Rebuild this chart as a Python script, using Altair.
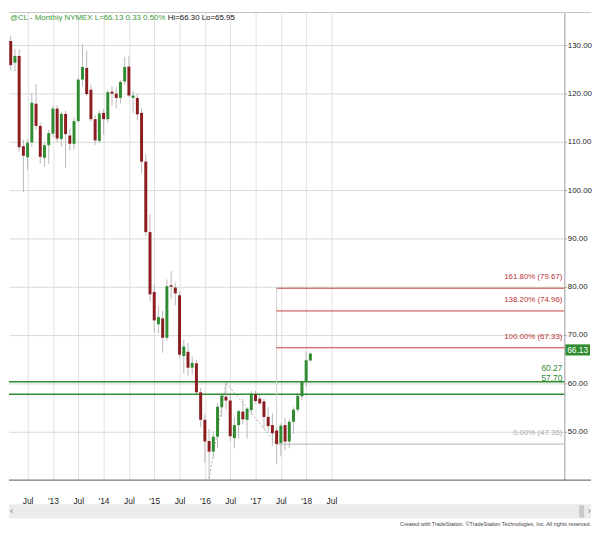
import altair as alt
import pandas as pd

FONT = "Liberation Sans, Arial, sans-serif"

# ---------------- data ----------------
months = [
    "2012-03", "2012-04", "2012-05", "2012-06", "2012-07", "2012-08", "2012-09", "2012-10", "2012-11", "2012-12",
    "2013-01", "2013-02", "2013-03", "2013-04", "2013-05", "2013-06", "2013-07", "2013-08", "2013-09", "2013-10",
    "2013-11", "2013-12", "2014-01", "2014-02", "2014-03", "2014-04", "2014-05", "2014-06", "2014-07", "2014-08",
    "2014-09", "2014-10", "2014-11", "2014-12", "2015-01", "2015-02", "2015-03", "2015-04", "2015-05", "2015-06",
    "2015-07", "2015-08", "2015-09", "2015-10", "2015-11", "2015-12", "2016-01", "2016-02", "2016-03", "2016-04",
    "2016-05", "2016-06", "2016-07", "2016-08", "2016-09", "2016-10", "2016-11", "2016-12", "2017-01", "2017-02",
    "2017-03", "2017-04", "2017-05", "2017-06", "2017-07", "2017-08", "2017-09", "2017-10", "2017-11", "2017-12",
    "2018-01", "2018-02",
]
opens = [
    130.9, 126.4, 127.8, 109.1, 106.8, 109.9, 117.9, 113.3, 106.7, 109.3,
    111.7, 116.9, 110.6, 115.8, 111.3, 109.6, 114.3, 122.9, 125.3, 120.8,
    114.7, 110.2, 116.0, 114.7, 120.4, 120.0, 119.1, 122.5, 125.6, 119.1,
    119.1, 116.0, 105.9, 91.3, 78.9, 72.2, 73.4, 69.4, 80.3, 79.8,
    78.2, 65.6, 66.5, 63.2, 64.1, 58.1, 52.4, 48.0, 45.8, 48.9,
    55.0, 57.2, 56.4, 48.6, 51.3, 54.1, 52.4, 54.4, 57.7, 56.8,
    56.2, 53.0, 51.3, 50.2, 47.6, 51.3, 47.9, 52.0, 54.5, 57.3,
    60.3, 64.7,
]
highs = [
    132.0, 129.3, 129.2, 110.5, 110.5, 120.1, 122.0, 114.0, 110.0, 112.5,
    117.5, 117.6, 116.3, 116.5, 112.8, 115.0, 123.3, 130.2, 128.9, 121.8,
    115.5, 116.5, 116.8, 120.7, 121.5, 121.3, 122.8, 127.6, 127.7, 120.5,
    120.0, 117.0, 107.5, 95.0, 80.5, 76.0, 75.0, 81.5, 83.2, 80.8,
    79.0, 69.0, 68.3, 65.5, 64.8, 59.0, 53.5, 50.5, 50.0, 55.8,
    57.9, 60.14, 57.5, 53.0, 54.5, 56.8, 55.0, 58.3, 58.4, 57.6,
    56.8, 55.0, 53.8, 51.0, 51.7, 52.8, 52.5, 55.0, 58.0, 60.6,
    66.6, 66.3,
]
lows = [
    124.8, 124.6, 108.0, 99.6, 104.2, 109.0, 112.5, 105.5, 104.8, 105.5,
    111.0, 109.9, 109.0, 104.6, 108.2, 108.5, 114.0, 121.5, 119.5, 114.2,
    109.3, 109.8, 111.5, 114.0, 117.5, 117.0, 118.0, 121.8, 119.3, 116.0,
    114.5, 103.5, 90.5, 77.0, 70.5, 70.3, 66.3, 68.8, 77.4, 76.1,
    65.3, 62.0, 61.5, 61.8, 57.5, 50.9, 43.5, 40.17, 44.5, 46.5,
    53.0, 54.5, 48.0, 46.5, 48.5, 51.5, 48.5, 53.5, 55.8, 55.5,
    50.5, 50.0, 47.0, 43.2, 44.8, 46.0, 46.5, 49.5, 54.0, 56.5,
    59.2, 64.5,
]
closes = [
    125.9, 127.8, 108.9, 107.1, 109.8, 118.1, 113.3, 106.9, 109.3, 111.8,
    116.9, 110.7, 115.8, 111.6, 109.6, 114.3, 122.9, 125.5, 119.9, 114.7,
    110.3, 115.9, 114.7, 120.3, 120.0, 119.1, 122.4, 125.5, 119.6, 119.6,
    115.7, 105.9, 91.3, 78.4, 73.0, 73.7, 69.4, 80.1, 80.0, 78.6,
    65.9, 67.6, 63.2, 64.2, 58.1, 52.4, 47.9, 45.8, 48.9, 55.1,
    57.4, 56.4, 49.0, 51.3, 54.2, 52.5, 54.7, 57.8, 56.3, 55.8,
    53.0, 51.1, 49.6, 47.4, 51.2, 47.9, 52.0, 54.5, 57.4, 60.4,
    64.75, 66.13,
]

tick_months = ["2012-07", "2013-01", "2013-07", "2014-01", "2014-07", "2015-01", "2015-07",
               "2016-01", "2016-07", "2017-01", "2017-07", "2018-01", "2018-07"]
tick_labels = ["Jul", "'13", "Jul", "'14", "Jul", "'15", "Jul", "'16", "Jul", "'17", "Jul", "'18", "Jul"]
price_ticks = [50, 60, 70, 80, 90, 100, 110, 120, 130]

support_levels = [60.27, 57.70]
support_labels = ["60.27", "57.70"]

fib_levels = [79.67, 74.96, 67.33]
fib_labels = ["161.80% (79.67)", "138.20% (74.96)", "100.00% (67.33)"]
fib_zero_level = 47.36
fib_zero_label = "0.00% (47.36)"
fib_anchor_month = "2017-06"

abc_months = ["2016-02", "2016-06", "2017-06"]
abc_prices = [40.17, 60.14, 47.36]

header_green = "@CL - Monthly  NYMEX  L=66.13  0.33  0.50%"
header_black = "Hi=66.30  Lo=65.95"
credits = "Created with TradeStation. \u00a9TradeStation Technologies, Inc. All rights reserved."

# ---------------- helpers ----------------
def idx(m):
    y, mo = m.split("-")
    return (int(y) - 2012) * 12 + (int(mo) - 3)

df = pd.DataFrame({"month": months, "open": opens, "high": highs, "low": lows, "close": closes})
df["k"] = [idx(m) for m in months]
df["dir"] = ["up" if c >= o else "down" for o, c in zip(opens, closes)]

W, H = 563, 474
GREEN = "#2f8c32"
RED = "#8b1c1f"
FIBRED = "#c83a3a"

xs = alt.Scale(domain=[-0.411, 131.18], nice=False, zero=False, padding=0)
ys = alt.Scale(domain=[39.9, 136.8], nice=False, zero=False, padding=0)

tick_idx = [idx(m) for m in tick_months]
label_expr = "[" + ",".join('"%s"' % t for t in tick_labels) + "][indexof([" + \
    ",".join(str(i) for i in tick_idx) + "], datum.value)]"

xaxis = alt.Axis(values=tick_idx, labelExpr=label_expr, title=None, grid=True,
                 gridColor="#e1e1e1", gridWidth=1, domain=False, ticks=False,
                 labelPadding=17, labelFont=FONT, labelFontSize=8.5, labelColor="#222")
yaxis = alt.Axis(orient="right", values=price_ticks, format=".2f", title=None, grid=True,
                 gridColor="#d2ded2", gridWidth=1, domain=True, domainColor="#9a9a9a",
                 ticks=True, tickSize=2, tickColor="#9a9a9a", labelPadding=1,
                 labelFont=FONT, labelFontSize=8, labelColor="#222")


def X(f):
    return alt.X(f, scale=xs, axis=xaxis, title=None)


def Y(f):
    return alt.Y(f, scale=ys, axis=yaxis, title=None)


# candles
wicks = alt.Chart(df).mark_rule(color="#b9b9b9", strokeWidth=1).encode(
    x=X("k:Q"), y=Y("low:Q"), y2="high:Q")
bodies = alt.Chart(df).mark_bar(size=3).encode(
    x=X("k:Q"), y=Y("open:Q"), y2="close:Q",
    color=alt.Color("dir:N", scale=alt.Scale(domain=["up", "down"], range=[GREEN, RED]), legend=None),
)

# support lines
sup_df = pd.DataFrame({"p": support_levels, "t": support_labels})
sup_lines = alt.Chart(sup_df).mark_rule(color=GREEN, strokeWidth=1.5).encode(y=Y("p:Q"))
lab_df = pd.DataFrame({"p": [support_levels[0]], "t1": [support_labels[0]], "t2": [support_labels[1]]})
sup_t1 = alt.Chart(lab_df).mark_text(
    align="right", baseline="middle", dy=-13.5, font=FONT, fontSize=8.5, color=GREEN).encode(
    x=alt.value(W - 2), y=Y("p:Q"), text="t1:N")
sup_t2 = alt.Chart(lab_df).mark_text(
    align="right", baseline="middle", dy=-4, font=FONT, fontSize=8.5, color=GREEN).encode(
    x=alt.value(W - 2), y=Y("p:Q"), text="t2:N")

# fibonacci extension
fk = idx(fib_anchor_month)
fib_df = pd.DataFrame({"p": fib_levels, "t": fib_labels, "k": [fk] * len(fib_levels)})
fib_lines = alt.Chart(fib_df).mark_rule(color=FIBRED, strokeWidth=1).encode(
    x=X("k:Q"), x2=alt.value(W), y=Y("p:Q"))
fib_text = alt.Chart(fib_df).mark_text(
    align="right", baseline="middle", dy=-11, font=FONT, fontSize=8, color="#c03333").encode(
    x=alt.value(W - 2), y=Y("p:Q"), text="t:N")
zero_df = pd.DataFrame({"p": [fib_zero_level], "t": [fib_zero_label], "k": [fk],
                        "top": [max(fib_levels)]})
zero_line = alt.Chart(zero_df).mark_rule(color="#b4b4b4", strokeWidth=1).encode(
    x=X("k:Q"), x2=alt.value(W), y=Y("p:Q"))
zero_text = alt.Chart(zero_df).mark_text(
    align="right", baseline="middle", dy=-11, font=FONT, fontSize=8, color="#ababab").encode(
    x=alt.value(W - 2), y=Y("p:Q"), text="t:N")
fib_vert = alt.Chart(zero_df).mark_rule(color="#cfcfcf", strokeWidth=1).encode(
    x=X("k:Q"), y=Y("top:Q"), y2="p:Q")

abc_df = pd.DataFrame({"k": [idx(m) for m in abc_months], "p": abc_prices, "o": [0, 1, 2]})
abc_line = alt.Chart(abc_df).mark_line(color="#b0b0b0", strokeWidth=1, strokeDash=[2, 2]).encode(
    x=X("k:Q"), y=Y("p:Q"), order="o:Q")

# last price box on the axis
last = pd.DataFrame({"top": [closes[-1] + 1.9], "bot": [closes[-1] - 0.4],
                     "p": [closes[-1]], "t": ["%.2f" % closes[-1]]})
last_box = alt.Chart(last).mark_rect(color="#2e8b2e").encode(
    x=alt.value(W + 1), x2=alt.value(W + 26), y=Y("top:Q"), y2="bot:Q")
last_text = alt.Chart(last).mark_text(
    align="center", baseline="middle", dy=-4, font=FONT, fontSize=8.5, color="white").encode(
    x=alt.value(W + 13.5), y=Y("p:Q"), text="t:N")

# header
hdr = pd.DataFrame({"g": [header_green], "b": [header_black]})
head_g = alt.Chart(hdr).mark_text(align="left", baseline="middle", font=FONT, fontSize=8,
                                  color="#3a9a3a").encode(x=alt.value(1), y=alt.value(6), text="g:N")
head_b = alt.Chart(hdr).mark_text(align="left", baseline="middle", font=FONT, fontSize=8,
                                  color="#111").encode(x=alt.value(161), y=alt.value(6), text="b:N")

# frame lines, scrollbar, credits
deco = pd.DataFrame({"c": [credits], "l": ["\u2039"], "r": ["\u203a"]})
top_line = alt.Chart(deco).mark_rule(color="#c4c4c4", strokeWidth=1).encode(
    x=alt.value(0), x2=alt.value(590), y=alt.value(0))
bottom_line = alt.Chart(deco).mark_rule(color="#555", strokeWidth=1).encode(
    x=alt.value(0), x2=alt.value(590), y=alt.value(H))
band = alt.Chart(deco).mark_rect(color="#ececec").encode(
    x=alt.value(0), x2=alt.value(590), y=alt.value(498.5), y2=alt.value(513))
thumb = alt.Chart(deco).mark_rect(color="#c9c9c9").encode(
    x=alt.value(578), x2=alt.value(583), y=alt.value(499.5), y2=alt.value(512))
arrow_l = alt.Chart(deco).mark_text(font=FONT, fontSize=10, color="#777", align="left",
                                    baseline="middle").encode(x=alt.value(1), y=alt.value(505.5), text="l:N")
arrow_r = alt.Chart(deco).mark_text(font=FONT, fontSize=10, color="#777", align="right",
                                    baseline="middle").encode(x=alt.value(590), y=alt.value(505.5), text="r:N")
credit_t = alt.Chart(deco).mark_text(font=FONT, fontSize=5.5, color="#444", align="right",
                                     baseline="middle").encode(x=alt.value(590), y=alt.value(519), text="c:N")

chart = alt.layer(
    wicks, sup_lines, fib_vert, fib_lines, zero_line, abc_line, bodies,
    sup_t1, sup_t2, fib_text, zero_text, last_box, last_text, head_g, head_b,
    top_line, bottom_line, band, thumb, arrow_l, arrow_r, credit_t,
).properties(width=W, height=H, padding=0, background="white").configure_view(strokeWidth=0)

chart.save("out.html", embed_options={"renderer": "svg", "actions": False})
